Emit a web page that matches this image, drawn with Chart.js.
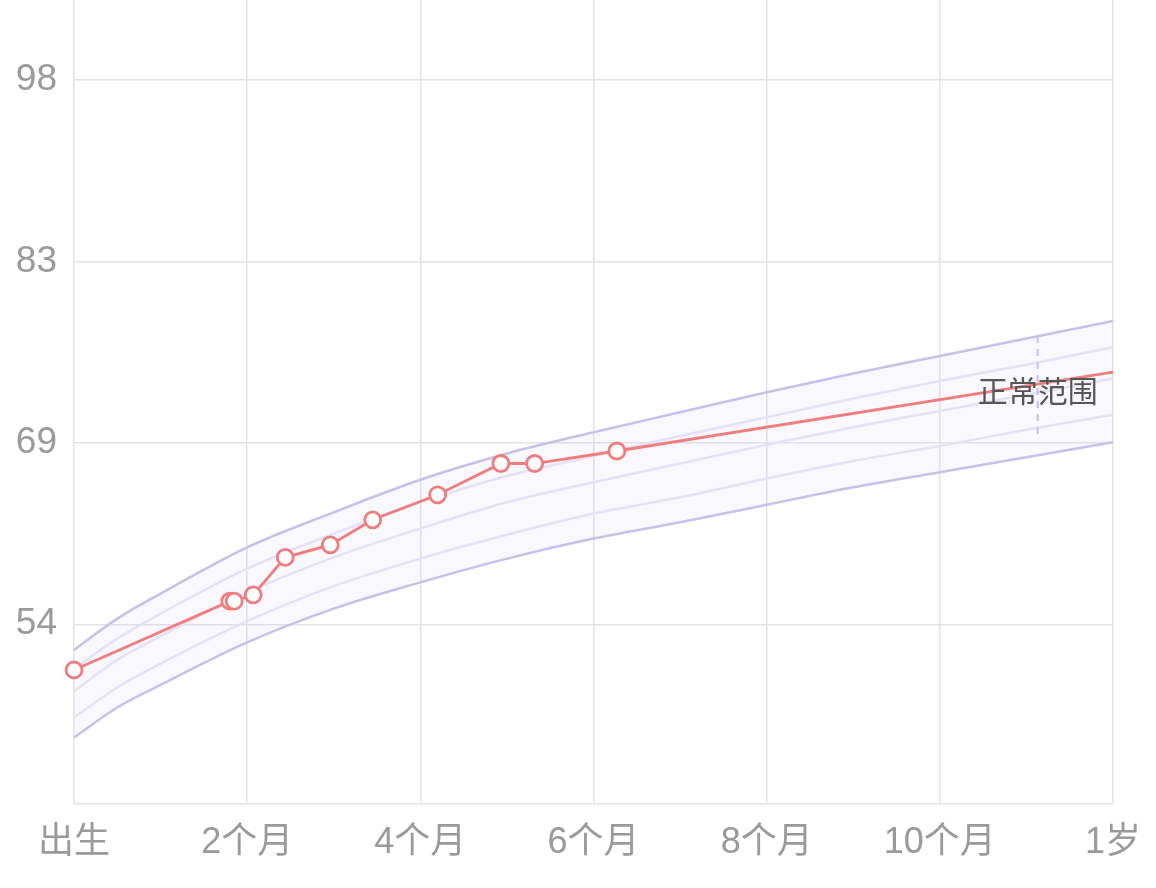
<!DOCTYPE html>
<html>
<head>
<meta charset="utf-8">
<script src="https://cdn.jsdelivr.net/npm/chart.js@4.4.1/dist/chart.umd.min.js"></script>
<style>
  html, body { margin: 0; padding: 0; background: #fff; }
  #growthChart { display: block; }
</style>
</head>
<body>
<canvas id="growthChart" width="1156" height="888"></canvas>
<script>
// x axis: age in months
const xTickValues = [0, 2, 4, 6, 8, 10, 12];
const xTickLabels = ['出生', '2个月', '4个月', '6个月', '8个月', '10个月', '1岁'];

// y axis: length in cm (grid lines, shown rounded)
const yTickValues = [54.25, 68.75, 83.25, 97.75];
const yTickLabels = ['54', '69', '83', '98'];

// reference curves, one value per month below
const curveMonths = [0, 0.5, 1, 2, 3, 4, 5, 6, 7, 8, 9, 10, 11, 12];
const upperCurve  = [52.2, 54.7, 56.7, 60.4, 63.2, 65.8, 67.9, 69.6, 71.2, 72.8, 74.3, 75.7, 77.1, 78.5];
const inner1Curve = [50.7, 53.1, 55.1, 58.7, 61.5, 64.0, 66.1, 67.7, 69.3, 70.8, 72.3, 73.7, 75.0, 76.4];
const inner2Curve = [48.9, 51.4, 53.3, 56.8, 59.6, 61.9, 64.0, 65.6, 67.1, 68.6, 70.0, 71.3, 72.6, 73.9];
const inner3Curve = [46.8, 49.2, 51.1, 54.5, 57.3, 59.5, 61.4, 63.1, 64.4, 65.9, 67.3, 68.5, 69.8, 71.0];
const lowerCurve  = [45.2, 47.6, 49.4, 52.8, 55.5, 57.6, 59.5, 61.1, 62.4, 63.8, 65.2, 66.4, 67.6, 68.8];

// measured values
const babyMonths = [0, 1.80, 1.85, 2.07, 2.44, 2.96, 3.45, 4.20, 4.93, 5.32, 6.27, 12];
const babyLength = [50.6, 56.1, 56.1, 56.6, 59.6, 60.6, 62.6, 64.6, 67.1, 67.1, 68.1, 74.4];

// "正常范围" marker
const rangeLabel = '正常范围';
const rangeMarkerMonth = 11.13;
const rangeMarkerTop = 77.3;
const rangeMarkerBottom = 69.0;
const rangeLabelValue = 72.7;

const fontFamily = '"Liberation Sans", "Noto Sans CJK SC", sans-serif';

function toPoints(xs, ys) {
    return xs.map((x, i) => ({ x: x, y: ys[i] }));
}

const outerColor = '#c5c1ea';
const innerColor = '#e4e1f8';
const redColor = '#f07d7d';

function curveDataset(values, color, extra) {
    return Object.assign({
        data: toPoints(curveMonths, values),
        borderColor: color,
        borderWidth: 2.5,
        pointRadius: 0,
        tension: 0.4,
        cubicInterpolationMode: 'monotone',
        fill: false
    }, extra || {});
}

// draws the range label on top of the lines
const rangeLabelPlugin = {
    id: 'rangeLabel',
    afterDatasetsDraw(chart) {
        const ctx = chart.ctx;
        const x = chart.scales.x.getPixelForValue(rangeMarkerMonth);
        const y = chart.scales.y.getPixelForValue(rangeLabelValue);
        ctx.save();
        ctx.font = '30px ' + fontFamily;
        ctx.fillStyle = '#555555';
        ctx.textAlign = 'center';
        ctx.textBaseline = 'middle';
        ctx.fillText(rangeLabel, x, y);
        ctx.restore();
    }
};

const lastIndex = babyMonths.length - 1;

new Chart(document.getElementById('growthChart'), {
    type: 'line',
    data: {
        datasets: [
            {
                data: toPoints(babyMonths, babyLength),
                borderColor: redColor,
                borderWidth: 2.8,
                backgroundColor: '#ffffff',
                pointBackgroundColor: '#ffffff',
                pointBorderColor: redColor,
                pointBorderWidth: 2.8,
                pointRadius: babyMonths.map((m, i) => i === lastIndex ? 0 : 8),
                tension: 0,
                clip: false,
                fill: false
            },
            {
                data: [{ x: rangeMarkerMonth, y: rangeMarkerTop }, { x: rangeMarkerMonth, y: rangeMarkerBottom }],
                borderColor: outerColor,
                borderWidth: 2,
                borderDash: [7, 6],
                pointRadius: 0,
                fill: false
            },
            curveDataset(upperCurve, outerColor, { fill: 6, backgroundColor: 'rgba(200, 194, 245, 0.11)' }),
            curveDataset(inner1Curve, innerColor),
            curveDataset(inner2Curve, innerColor),
            curveDataset(inner3Curve, innerColor),
            curveDataset(lowerCurve, outerColor)
        ]
    },
    options: {
        responsive: false,
        animation: false,
        devicePixelRatio: 1,
        layout: {
            autoPadding: false,
            padding: { top: 0, right: 43, bottom: 5, left: 0 }
        },
        plugins: {
            legend: { display: false },
            tooltip: { enabled: false },
            filler: { drawTime: 'beforeDatasetsDraw' }
        },
        scales: {
            x: {
                type: 'linear',
                min: 0,
                max: 12,
                afterBuildTicks: scale => {
                    scale.ticks = xTickValues.map(v => ({ value: v }));
                },
                afterFit: scale => {
                    scale.paddingLeft = 0;
                    scale.paddingRight = 0;
                },
                grid: {
                    color: '#e3e3e6',
                    lineWidth: 1.5,
                    drawTicks: false
                },
                border: { color: '#e3e3e6', width: 1.5 },
                ticks: {
                    padding: 18,
                    maxRotation: 0,
                    autoSkip: false,
                    color: '#9a9a9a',
                    font: { size: 36, family: fontFamily },
                    callback: value => xTickLabels[xTickValues.indexOf(value)]
                }
            },
            y: {
                type: 'linear',
                min: 39.9,
                max: 104.15,
                afterBuildTicks: scale => {
                    scale.ticks = yTickValues.map(v => ({ value: v }));
                },
                afterFit: scale => {
                    scale.width = 74;
                    scale.paddingTop = 0;
                    scale.paddingBottom = 0;
                },
                grid: {
                    color: '#e3e3e6',
                    lineWidth: 1.5,
                    drawTicks: false
                },
                border: { display: false },
                ticks: {
                    padding: 17,
                    color: '#9a9a9a',
                    font: { size: 37, family: fontFamily },
                    callback: value => yTickLabels[yTickValues.indexOf(value)]
                }
            }
        }
    },
    plugins: [rangeLabelPlugin]
});
</script>
</body>
</html>
